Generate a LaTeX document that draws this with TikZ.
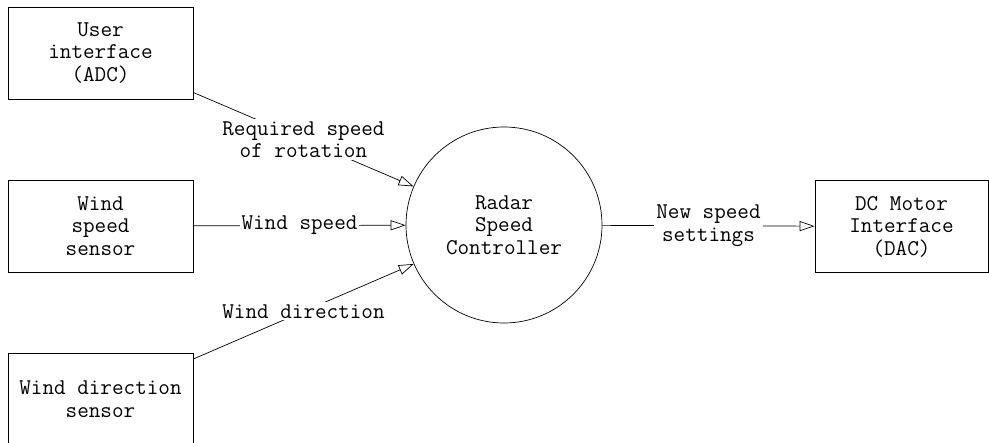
\documentclass[tikz,border=0pt]{standalone}
\usepackage{fontspec}
\usetikzlibrary{arrows.meta}
\begin{document}
\begin{tikzpicture}[x=1pt,y=-1pt,
  every node/.style={font=\ttfamily\fontsize{22.5}{22.5}\selectfont, align=center},
  box/.style={draw, line width=0.7pt, minimum width=185pt, minimum height=92pt, inner sep=0pt},
  proc/.style={draw, circle, line width=0.7pt, minimum size=196pt, inner sep=0pt},
  flow/.style={line width=0.7pt, -{Triangle[open, length=15pt, width=10pt]}},
  lbl/.style={fill=white, inner sep=2pt}]
\useasboundingbox (0,0) rectangle (989,443);
\node[box] (ui) at (100.5,53) {User\\interface\\(ADC)};
\node[box] (ws) at (100.5,226) {Wind\\speed\\sensor};
\node[box] (wd) at (100.5,399) {Wind direction\\sensor};
\node[box, minimum width=173pt] (dc) at (901.5,226.5) {DC Motor\\Interface\\(DAC)};
\node[proc] (rsc) at (504,225) {Radar\\Speed\\Controller};
\draw[flow] (ui) -- node[lbl] {Required speed\\of rotation} (rsc);
\draw[flow] (ws) -- node[lbl] {Wind speed} (rsc);
\draw[flow] (wd) -- node[lbl] {Wind direction} (rsc);
\draw[flow] (rsc) -- node[lbl] {New speed\\settings} (dc);
\end{tikzpicture}
\end{document}
